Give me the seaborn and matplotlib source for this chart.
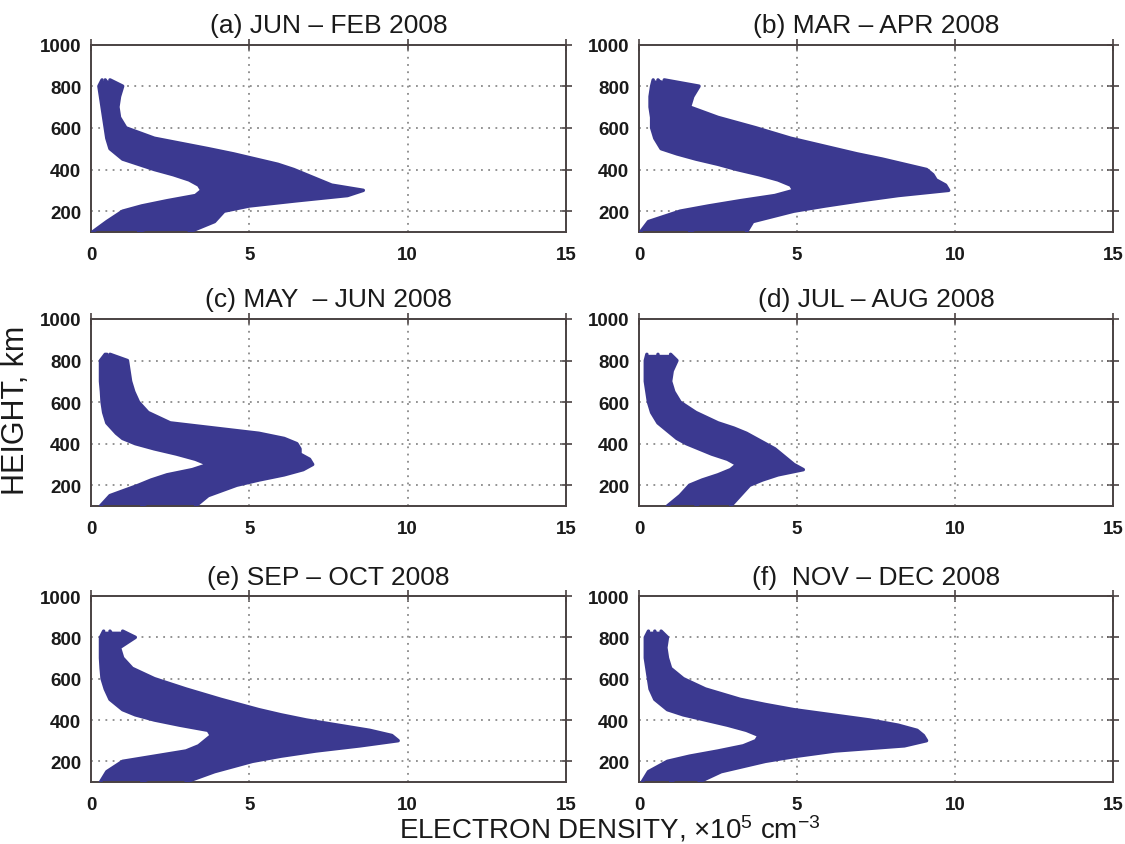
import numpy as np
import pandas as pd
import matplotlib
matplotlib.use("Agg")
import matplotlib.pyplot as plt
import seaborn as sns

# ---------------- data ----------------
HEIGHTS = [100, 150, 200, 225, 250, 275, 300, 325, 350, 375, 400, 425,
           450, 475, 500, 550, 600, 650, 700, 750, 800, 830]

PANEL_TITLES = ["(a) JUN \u2013 FEB 2008", "(b) MAR \u2013 APR 2008",
                "(c) MAY  \u2013 JUN 2008", "(d) JUL \u2013 AUG 2008",
                "(e) SEP \u2013 OCT 2008", "(f)  NOV \u2013 DEC 2008"]

# electron density (x10^5 cm^-3) at HEIGHTS: lowest, middle and highest profile
A_MIN = [0.05, 0.5, 1.0, 1.6, 2.4, 3.3, 3.5, 3.4, 3.1, 2.6, 2.0, 1.5, 1.0, 0.8, 0.6, 0.5, 0.45, 0.4, 0.35, 0.3, 0.25, 0.35]
A_MID = [1.5, 2.3, 3.0, 3.8, 4.8, 5.7, 6.0, 5.7, 5.2, 4.7, 4.1, 3.5, 2.9, 2.4, 1.9, 1.2, 0.8, 0.65, 0.6, 0.55, 0.55, 0.45]
A_MAX = [3.1, 3.9, 4.2, 5.0, 6.5, 8.1, 8.6, 7.6, 7.2, 6.8, 6.4, 5.9, 5.2, 4.5, 3.7, 2.0, 1.1, 0.9, 0.85, 0.9, 1.0, 0.6]

B_MIN = [0.05, 0.3, 1.3, 2.2, 3.2, 4.3, 4.9, 4.8, 4.4, 3.8, 3.1, 2.5, 1.8, 1.2, 0.7, 0.5, 0.4, 0.4, 0.35, 0.35, 0.4, 0.45]
B_MID = [1.6, 2.2, 3.4, 4.3, 5.3, 6.4, 7.2, 7.2, 6.9, 6.5, 6.0, 5.4, 4.7, 4.0, 3.4, 2.4, 1.7, 1.2, 0.9, 0.8, 0.8, 0.6]
B_MAX = [3.4, 3.6, 4.9, 5.9, 7.0, 8.2, 9.8, 9.7, 9.4, 9.3, 9.1, 8.4, 7.7, 6.9, 6.2, 4.8, 3.7, 2.5, 1.6, 1.7, 1.9, 0.8]

C_MIN = [0.3, 0.6, 1.5, 1.9, 2.4, 3.2, 3.7, 3.3, 2.7, 2.0, 1.4, 1.0, 0.8, 0.65, 0.5, 0.4, 0.35, 0.33, 0.3, 0.3, 0.3, 0.45]
C_MID = [1.6, 2.2, 3.1, 3.6, 4.3, 5.0, 5.3, 5.1, 4.7, 4.2, 3.7, 3.2, 2.6, 2.0, 1.5, 1.0, 0.8, 0.7, 0.65, 0.6, 0.6, 0.5]
C_MAX = [3.3, 3.7, 4.6, 5.3, 6.1, 6.7, 7.0, 6.9, 6.6, 6.6, 6.5, 6.1, 5.3, 3.9, 2.5, 1.8, 1.5, 1.35, 1.25, 1.2, 1.15, 0.6]

D_MIN = [0.9, 1.3, 1.6, 2.0, 2.5, 2.9, 3.1, 2.8, 2.3, 1.9, 1.5, 1.2, 1.0, 0.8, 0.6, 0.4, 0.3, 0.25, 0.2, 0.2, 0.2, 0.25]
D_MID = [1.8, 2.2, 2.6, 3.0, 3.5, 4.0, 4.0, 3.8, 3.4, 3.1, 2.8, 2.4, 2.1, 1.8, 1.5, 1.0, 0.7, 0.6, 0.55, 0.55, 0.6, 0.6]
D_MAX = [2.9, 3.2, 3.5, 3.9, 4.4, 5.2, 4.9, 4.7, 4.5, 4.3, 4.0, 3.7, 3.4, 3.0, 2.5, 1.8, 1.3, 1.1, 1.0, 1.05, 1.2, 1.0]

E_MIN = [0.3, 0.5, 1.0, 2.0, 3.0, 3.4, 3.6, 3.8, 3.7, 2.8, 2.0, 1.4, 1.0, 0.8, 0.6, 0.45, 0.35, 0.32, 0.3, 0.3, 0.3, 0.4]
E_MID = [1.6, 2.3, 3.2, 4.0, 5.0, 6.0, 6.6, 6.6, 6.3, 5.6, 4.8, 4.1, 3.5, 3.0, 2.5, 1.7, 1.2, 0.9, 0.7, 0.6, 0.7, 0.6]
E_MAX = [3.0, 3.9, 5.1, 6.0, 7.1, 8.5, 9.7, 9.5, 8.8, 7.8, 6.8, 6.0, 5.3, 4.7, 4.1, 3.0, 2.0, 1.3, 1.0, 0.9, 1.4, 1.0]

F_MIN = [0.1, 0.3, 0.9, 1.6, 2.5, 3.3, 3.7, 3.8, 3.4, 2.8, 2.1, 1.4, 0.9, 0.7, 0.5, 0.35, 0.3, 0.25, 0.2, 0.2, 0.2, 0.3]
F_MID = [1.0, 1.5, 2.6, 3.4, 4.4, 6.0, 6.4, 6.3, 6.0, 5.4, 4.6, 3.7, 2.9, 2.3, 1.8, 1.2, 0.8, 0.6, 0.55, 0.5, 0.55, 0.5]
F_MAX = [1.9, 2.6, 4.0, 5.0, 6.2, 8.4, 9.1, 9.0, 8.8, 8.2, 7.3, 6.1, 4.9, 4.0, 3.2, 2.1, 1.4, 1.0, 0.9, 0.85, 0.9, 0.7]

PANELS = [
    [A_MIN, A_MID, A_MAX],
    [B_MIN, B_MID, B_MAX],
    [C_MIN, C_MID, C_MAX],
    [D_MIN, D_MID, D_MAX],
    [E_MIN, E_MID, E_MAX],
    [F_MIN, F_MID, F_MAX],
]

X_TICKS = [0, 5, 10, 15]
Y_TICKS = [200, 400, 600, 800, 1000]

# long table for seaborn
rows = []
for pi, profs in enumerate(PANELS):
    for k, prof in enumerate(profs):
        for h, d in zip(HEIGHTS, prof):
            rows.append({"panel": pi, "profile": k, "height": h, "density": d})
df = pd.DataFrame(rows)

# ---------------- style ----------------
sns.set_style("white")
plt.rcParams["font.family"] = ["Liberation Sans", "DejaVu Sans"]
plt.rcParams["mathtext.fontset"] = "custom"
plt.rcParams["mathtext.rm"] = "Liberation Sans"
plt.rcParams["mathtext.it"] = "Liberation Sans:italic"

BLUE = "#3b3990"
SPINE = "#4a4242"
TICKFONT = ["Liberation Sans Narrow", "Liberation Sans"]

fig = plt.figure(figsize=(11.25, 8.45), dpi=100)
W, H = 1125.0, 845.0
lefts = [91, 639]
widths = [475, 474]
rows_px = [(45.5, 233), (320, 507), (597, 783)]

for pi, profs in enumerate(PANELS):
    r, c = divmod(pi, 2)
    top_px, bot_px = rows_px[r]
    ax = fig.add_axes([lefts[c] / W, 1 - bot_px / H, widths[c] / W, (bot_px - top_px) / H])
    sub = df[df["panel"] == pi]
    ax.fill_betweenx(HEIGHTS, profs[0], profs[-1], color=BLUE, lw=0, zorder=2)
    sns.lineplot(data=sub, x="density", y="height", units="profile", estimator=None,
                 sort=False, color=BLUE, lw=2.5, ax=ax, legend=False, zorder=3)
    ax.set_xlim(0, 15)
    ax.set_ylim(100, 1000)
    ax.set_xticks(X_TICKS)
    ax.set_yticks(Y_TICKS)
    ax.set_xlabel("")
    ax.set_ylabel("")
    for x in [5, 10]:
        ax.axvline(x, color="#8a8a8a", lw=1.3, ls=(0, (1, 3)), zorder=1)
    for y in [200, 400, 600, 800]:
        ax.axhline(y, color="#8a8a8a", lw=1.3, ls=(0, (1, 3)), zorder=1)
    for s in ax.spines.values():
        s.set_visible(True)
        s.set_color(SPINE)
        s.set_linewidth(1.4)
    ax.tick_params(direction="inout", length=8, width=1.2, color=SPINE,
                   top=True, right=True)
    ax.tick_params(axis="x", pad=6)
    ax.tick_params(axis="y", pad=3)
    for lab in ax.get_xticklabels() + ax.get_yticklabels():
        lab.set_fontweight("bold")
        lab.set_family(TICKFONT)
        lab.set_fontsize(13.5)
        lab.set_color("#1a1a1a")
    ax.set_title(PANEL_TITLES[pi], fontsize=19, pad=9, color="#1a1a1a")

fig.text(16 / W, 1 - 410 / H, "HEIGHT, km", rotation=90, ha="center", va="center",
         fontsize=22, color="#1a1a1a")
fig.text(610 / W, 1 - 839 / H, r"ELECTRON DENSITY, $\times$10$^{5}$ cm$^{-3}$",
         ha="center", va="baseline", fontsize=20, color="#1a1a1a")

fig.savefig("out.png", dpi=100)
